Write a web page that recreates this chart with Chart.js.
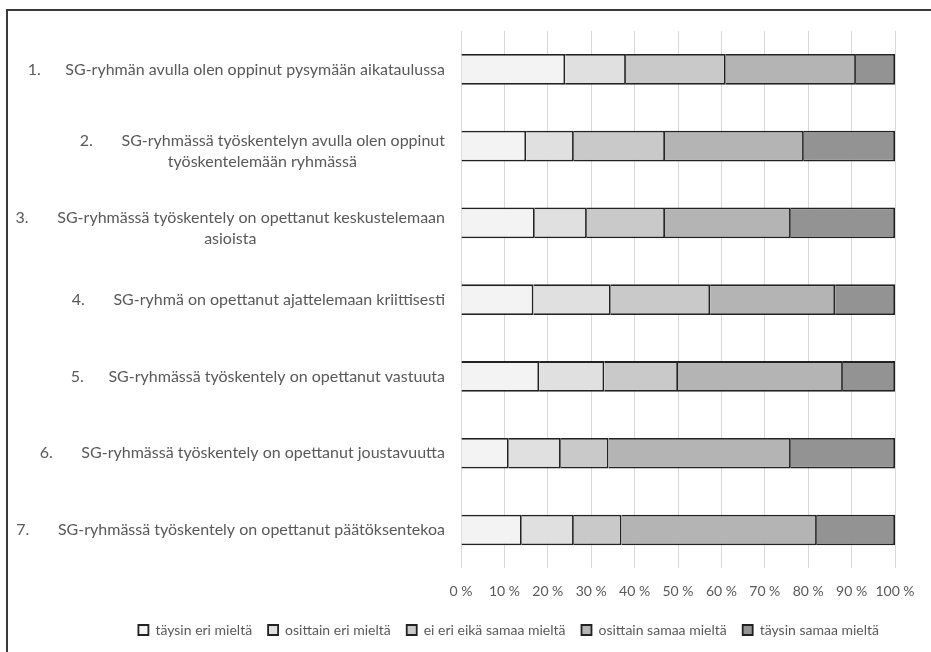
<!DOCTYPE html>
<html>
<head>
<meta charset="utf-8">
<script src="https://cdn.jsdelivr.net/npm/chart.js@4.4.1/dist/chart.umd.min.js"></script>
<style>
  html, body { margin: 0; padding: 0; background: #fff; overflow: hidden; }
  #wrap { position: relative; width: 931px; height: 652px; }
  #wrap canvas { position: absolute; left: 0; top: 0; }
  #frame {
    position: absolute; left: 6px; top: 9px; width: 1200px; height: 1000px;
    border-left: 2px solid #3a3a3a; border-top: 2px solid #3a3a3a;
    pointer-events: none;
  }
</style>
</head>
<body>
<div id="wrap">
  <canvas id="chart" width="931" height="652"></canvas>
  <div id="frame"></div>
</div>
<script>
// Survey statements (one entry per bar, lines wrap as shown)
const statements = [
  ['1.      SG-ryhmän avulla olen oppinut pysymään aikataulussa'],
  ['2.       SG-ryhmässä työskentelyn avulla olen oppinut', 'työskentelemään ryhmässä'],
  ['3.       SG-ryhmässä työskentely on opettanut keskustelemaan', 'asioista'],
  ['4.       SG-ryhmä on opettanut ajattelemaan kriittisesti'],
  ['5.      SG-ryhmässä työskentely on opettanut vastuuta'],
  ['6.       SG-ryhmässä työskentely on opettanut joustavuutta'],
  ['7.       SG-ryhmässä työskentely on opettanut päätöksentekoa']
];

// Answer scale
const responseLevels = [
  'täysin eri mieltä',
  'osittain eri mieltä',
  'ei eri eikä samaa mieltä',
  'osittain samaa mieltä',
  'täysin samaa mieltä'
];

// Share of answers per statement (%)
const fullyDisagree   = [24, 15, 17, 16.7, 18, 11, 14];
const partlyDisagree  = [14, 11, 12, 17.8, 15, 12, 12];
const neutral         = [23, 21, 18, 22.9, 17, 11, 11];
const partlyAgree     = [30, 32, 29, 28.8, 38, 42, 45];
const fullyAgree      = [ 9, 21, 24, 13.8, 12, 24, 18];

// Axis ticks
const percentTicks = [0, 10, 20, 30, 40, 50, 60, 70, 80, 90, 100];

const fills = ['#f3f3f3', '#e0e0e0', '#c9c9c9', '#b4b4b4', '#939393'];
const seriesValues = [fullyDisagree, partlyDisagree, neutral, partlyAgree, fullyAgree];

const FONT = 'Lato, "Open Sans", sans-serif';
const TEXT = '#595959';

// Category labels: each block right-aligned to the axis, its lines centred
const statementLabels = {
  id: 'statementLabels',
  afterDraw(chart) {
    const { ctx, chartArea, scales: { y } } = chart;
    ctx.save();
    ctx.font = '16px ' + FONT;
    ctx.fillStyle = TEXT;
    ctx.textAlign = 'center';
    ctx.textBaseline = 'middle';
    const lineHeight = 21;
    statements.forEach((lines, i) => {
      const yc = y.getPixelForValue(i);
      const w = Math.max(...lines.map(l => ctx.measureText(l).width));
      const cx = chartArea.left - 16 - w / 2;
      const y0 = lines.length > 1 ? yc - lineHeight / 2 + 5 : yc;
      lines.forEach((l, k) => ctx.fillText(l, cx, y0 + k * lineHeight));
    });
    ctx.restore();
  }
};

new Chart(document.getElementById('chart'), {
  type: 'bar',
  data: {
    labels: statements.map(s => s.join(' ')),
    datasets: responseLevels.map((name, i) => ({
      label: name,
      data: seriesValues[i],
      backgroundColor: fills[i],
      borderColor: '#222222',
      borderWidth: 1.8,
      barPercentage: 0.4,
      categoryPercentage: 1
    }))
  },
  options: {
    indexAxis: 'y',
    responsive: false,
    animation: false,
    devicePixelRatio: 1,
    layout: { padding: { top: 31, left: 0, right: 36, bottom: 5 } },
    scales: {
      x: {
        stacked: true,
        min: 0,
        max: 100,
        afterBuildTicks(scale) { scale.ticks = percentTicks.map(v => ({ value: v })); },
        afterFit(scale) { scale.height = 38.6; },
        grid: { color: '#d9d9d9', lineWidth: 1, drawTicks: false },
        border: { display: false },
        ticks: {
          padding: 15,
          color: TEXT,
          autoSkip: false,
          maxRotation: 0,
          minRotation: 0,
          font: { family: FONT, size: 14 },
          callback: v => v + ' %'
        }
      },
      y: {
        stacked: true,
        afterFit(scale) { scale.width = 461; },
        grid: { display: false },
        border: { display: false },
        ticks: { display: false }
      }
    },
    plugins: {
      legend: {
        position: 'bottom',
        align: 'end',
        labels: {
          boxWidth: 10,
          boxHeight: 10,
          padding: 16,
          color: TEXT,
          font: { family: FONT, size: 14 }
        }
      },
      tooltip: { enabled: false }
    }
  },
  plugins: [statementLabels]
});
</script>
</body>
</html>
